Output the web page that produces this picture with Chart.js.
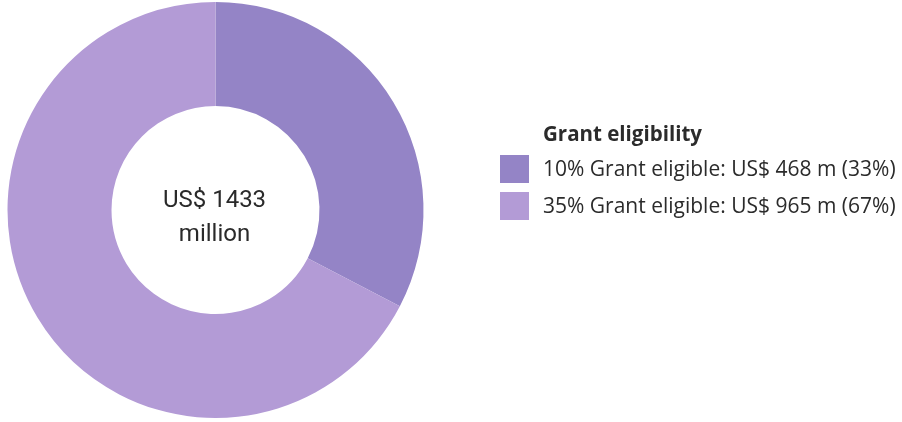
<!DOCTYPE html>
<html>
<head>
<meta charset="utf-8">
<script src="https://cdn.jsdelivr.net/npm/chart.js@4/dist/chart.umd.min.js"></script>
<style>
  html, body { margin: 0; padding: 0; background: #fff; }
  #wrap { position: relative; width: 902px; height: 422px; overflow: hidden; }
  #c { position: absolute; left: 0; top: 0; }
  .lg { position: absolute; font-family: "Open Sans", sans-serif; color: #2b2b2b; white-space: nowrap; }
  .lg.title { font-weight: 700; font-size: 20.5px; line-height: 20.5px; }
  .lg.item { font-size: 21px; line-height: 21px; }
  .box { position: absolute; width: 29px; height: 28px; }
</style>
</head>
<body>
<div id="wrap">
  <canvas id="c" width="902" height="422"></canvas>
</div>
<script>
const legendTitle = "Grant eligibility";
const categories = ["10% Grant eligible", "35% Grant eligible"];
const values = [468, 965];
const shares = ["33%", "67%"];
const colors = ["#9484c6", "#b39bd6"];
const centerLines = ["US$ 1433", "million"];

const wrap = document.getElementById('wrap');
const t = document.createElement('div');
t.className = 'lg title'; t.textContent = legendTitle;
t.style.left = '543px'; t.style.top = '123px';
wrap.appendChild(t);
categories.forEach((c, i) => {
  const b = document.createElement('div'); b.className = 'box';
  b.style.background = colors[i];
  b.style.left = '500px'; b.style.top = (155 + i * 37) + 'px';
  wrap.appendChild(b);
  const s = document.createElement('div'); s.className = 'lg item';
  s.textContent = c + ": US$ " + values[i] + " m (" + shares[i] + ")";
  s.style.left = '543px'; s.style.top = (158 + i * 37) + 'px';
  wrap.appendChild(s);
});

const centerText = {
  id: 'centerText',
  afterDraw(chart) {
    const arc = chart.getDatasetMeta(0).data[0];
    const ctx = chart.ctx;
    ctx.save();
    ctx.fillStyle = '#2a2a2a';
    ctx.font = '24px Roboto, sans-serif';
    ctx.textAlign = 'center';
    ctx.textBaseline = 'alphabetic';
    ctx.fillText(centerLines[0], arc.x - 1, arc.y - 3);
    ctx.fillText(centerLines[1], arc.x - 1, arc.y + 31);
    ctx.restore();
  }
};

new Chart(document.getElementById('c'), {
  type: 'doughnut',
  data: {
    labels: categories,
    datasets: [{
      data: values,
      backgroundColor: colors,
      borderWidth: 0,
      hoverOffset: 0
    }]
  },
  options: {
    responsive: false,
    animation: false,
    radius: 208,
    cutout: 105,
    layout: { padding: { left: 0, right: 471, top: 0, bottom: 2 } },
    plugins: { legend: { display: false }, tooltip: { enabled: false } }
  },
  plugins: [centerText]
});
</script>
</body>
</html>
